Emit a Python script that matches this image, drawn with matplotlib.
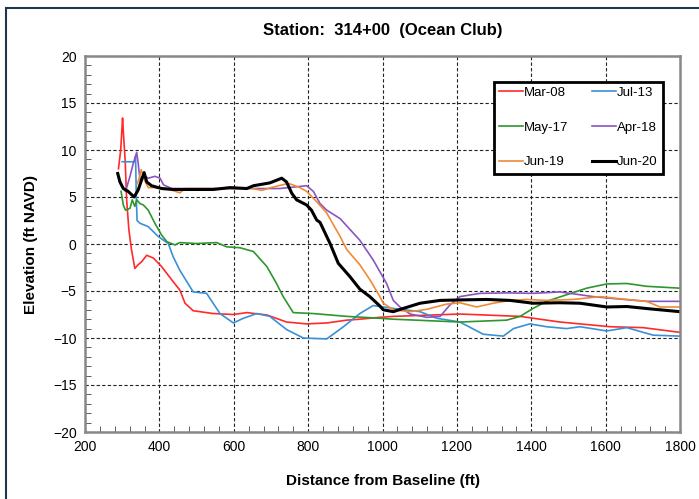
import matplotlib
matplotlib.use("Agg")
import matplotlib.pyplot as plt
from matplotlib.patches import Rectangle
from matplotlib.ticker import MultipleLocator

plt.rcParams['font.family'] = ['Liberation Sans', 'DejaVu Sans']

# survey profiles, distance (ft) vs elevation (ft NAVD)
mar08_x = [290, 296, 301, 303, 308, 312, 318, 325, 334, 343, 352, 366, 384, 406, 433, 455, 469, 491,
           545, 599, 635, 689, 742, 796, 850, 904, 939, 993, 1029, 1208, 1370, 1477, 1612, 1701, 1800]
mar08_y = [8.0, 10.0, 13.4, 12.0, 8.9, 4.7, 1.5, -0.6, -2.6, -2.2, -1.9, -1.2, -1.5, -2.4, -3.8, -4.9, -6.3, -7.1,
           -7.4, -7.5, -7.3, -7.55, -8.3, -8.5, -8.4, -8.1, -8.0, -7.8, -7.7, -7.45, -7.7, -8.3, -8.8, -8.9, -9.4]

jul13_x = [300, 334, 336, 338, 340, 348, 370, 384, 397, 424, 437, 455, 491, 527, 563, 599, 626, 662, 697,
           742, 787, 850, 895, 939, 975, 1029, 1101, 1146, 1208, 1271, 1325, 1352, 1396, 1441, 1495, 1531,
           1603, 1657, 1728, 1800]
jul13_y = [8.75, 8.75, 9.3, 5.0, 2.5, 2.2, 1.85, 1.3, 0.8, 0.05, -1.35, -2.8, -5.1, -5.25, -7.4, -8.4, -7.9, -7.4, -7.7,
           -9.1, -10.0, -10.1, -8.8, -7.4, -6.55, -6.85, -7.2, -7.9, -8.3, -9.6, -9.8, -9.0, -8.5, -8.8, -9.0, -8.8,
           -9.25, -8.9, -9.7, -9.8]

may17_x = [297, 303, 309, 321, 327, 334, 339, 348, 357, 370, 388, 406, 420, 442, 455, 500, 554, 581, 617,
           653, 689, 715, 733, 760, 814, 904, 993, 1029, 1119, 1208, 1334, 1370, 1405, 1441, 1495, 1549,
           1603, 1657, 1710, 1800]
may17_y = [5.6, 4.15, 3.6, 3.8, 4.7, 4.0, 4.7, 4.3, 4.15, 3.6, 2.2, 0.95, 0.25, -0.1, 0.15, 0.05, 0.15, -0.3, -0.4,
           -0.8, -2.4, -4.2, -5.6, -7.3, -7.4, -7.7, -7.9, -8.0, -8.15, -8.3, -8.1, -7.7, -6.85, -6.1, -5.4, -4.7,
           -4.25, -4.2, -4.5, -4.7]

apr18_x = [309, 321, 330, 339, 343, 348, 357, 370, 388, 402, 411, 433, 545, 635, 724, 796, 814, 832, 850,
           886, 939, 975, 1011, 1029, 1047, 1074, 1119, 1155, 1181, 1208, 1262, 1334, 1405, 1477, 1567,
           1621, 1710, 1800]
apr18_y = [5.6, 7.2, 8.6, 9.75, 8.6, 6.8, 7.3, 7.0, 7.2, 7.0, 6.3, 5.9, 5.9, 5.9, 5.9, 6.2, 5.6, 4.3, 3.6,
           2.7, 0.4, -1.7, -4.2, -6.0, -6.7, -7.45, -7.8, -7.7, -6.5, -5.6, -5.25, -5.2, -5.25, -5.1, -5.6,
           -5.8, -6.1, -6.1]

jun19_x = [340, 346, 351, 360, 370, 388, 420, 455, 470, 545, 599, 640, 675, 700, 742, 751, 778, 796, 823,
           850, 886, 904, 939, 966, 993, 1002, 1029, 1074, 1119, 1172, 1208, 1253, 1298, 1343, 1387, 1441,
           1513, 1585, 1657, 1710, 1746, 1800]
jun19_y = [6.4, 7.0, 7.9, 6.8, 6.0, 6.0, 5.9, 5.45, 5.9, 5.9, 5.9, 6.0, 5.7, 6.0, 6.4, 6.4, 6.0, 5.6, 4.5,
           3.3, 0.8, -0.6, -2.2, -3.8, -5.6, -6.3, -7.0, -7.2, -6.95, -6.4, -6.25, -6.7, -6.3, -6.0, -5.9, -6.0,
           -5.9, -5.6, -5.9, -6.1, -6.7, -6.7]

jun20_x = [288, 294, 303, 316, 332, 343, 352, 359, 366, 379, 406, 437, 545, 590, 635, 653, 697, 729, 742,
           756, 769, 796, 809, 823, 832, 859, 881, 913, 939, 966, 993, 1002, 1029, 1056, 1101, 1155, 1208,
           1280, 1343, 1405, 1477, 1531, 1603, 1657, 1719, 1800]
jun20_y = [7.5, 6.6, 5.9, 5.6, 5.0, 5.75, 6.8, 7.6, 6.6, 6.2, 5.9, 5.8, 5.8, 6.0, 5.9, 6.2, 6.5, 7.0, 6.6,
           5.4, 4.7, 4.15, 3.6, 2.55, 2.3, 0.05, -2.05, -3.5, -4.8, -5.6, -6.6, -7.0, -7.2, -6.85, -6.3, -6.0, -5.95,
           -5.9, -6.0, -6.3, -6.25, -6.3, -6.7, -6.65, -6.9, -7.2]

fig = plt.figure(figsize=(6.99, 4.99), dpi=100)
ax = fig.add_axes([85 / 699, 1 - 432 / 499, 595 / 699, 376 / 499])

l1, = ax.plot(mar08_x, mar08_y, color='#ff2a2a', lw=1.2, label='Mar-08')
l2, = ax.plot(jul13_x, jul13_y, color='#3a90d8', lw=1.2, label='Jul-13')
l3, = ax.plot(may17_x, may17_y, color='#2e962e', lw=1.2, label='May-17')
l4, = ax.plot(apr18_x, apr18_y, color='#8a55c0', lw=1.2, label='Apr-18')
l5, = ax.plot(jun19_x, jun19_y, color='#f08a35', lw=1.2, label='Jun-19')
l6, = ax.plot(jun20_x, jun20_y, color='black', lw=2.2, label='Jun-20')

ax.set_xlim(200, 1800)
ax.set_ylim(-20, 20)
ax.xaxis.set_major_locator(MultipleLocator(200))
ax.xaxis.set_minor_locator(MultipleLocator(40))
ax.yaxis.set_major_locator(MultipleLocator(5))
ax.yaxis.set_minor_locator(MultipleLocator(1))
ax.tick_params(which='both', direction='in', color='#444444', labelsize=10)
ax.tick_params(which='major', length=0, pad=6)
ax.tick_params(which='minor', length=4)
ax.grid(True, which='major', color='#222222', ls=(0, (3, 2)), lw=0.8)
for s in ax.spines.values():
    s.set_color('#888888')
    s.set_linewidth(1.8)

# legend fills column by column, so order it to read row by row
handles = [l1, l3, l5, l2, l4, l6]
leg = ax.legend(handles, [h.get_label() for h in handles], ncol=2, loc='center',
                bbox_to_anchor=(0.687, 0.670, 0.284, 0.279), mode='expand',
                fontsize=9.5, handlelength=1.8, handletextpad=0.1, labelspacing=1.7,
                borderaxespad=0, fancybox=False, framealpha=1)
leg.get_frame().set_edgecolor('black')
leg.get_frame().set_linewidth(2)

fig.text(383 / 699, 1 - 31 / 499, 'Station:  314+00  (Ocean Club)', ha='center', va='center',
         fontsize=12, fontweight='bold')
fig.text(383 / 699, 1 - 481 / 499, 'Distance from Baseline (ft)', ha='center', va='center',
         fontsize=11, fontweight='bold')
fig.text(31 / 699, 1 - 244 / 499, 'Elevation (ft NAVD)', ha='center', va='center', rotation=90,
         fontsize=11, fontweight='bold')

fig.patches.append(Rectangle((6 / 699, -0.05), 1.2, 1 - 8 / 499 + 0.05, transform=fig.transFigure,
                             fill=False, edgecolor='#1f3552', lw=1.5))

fig.savefig('out.png', dpi=100)
